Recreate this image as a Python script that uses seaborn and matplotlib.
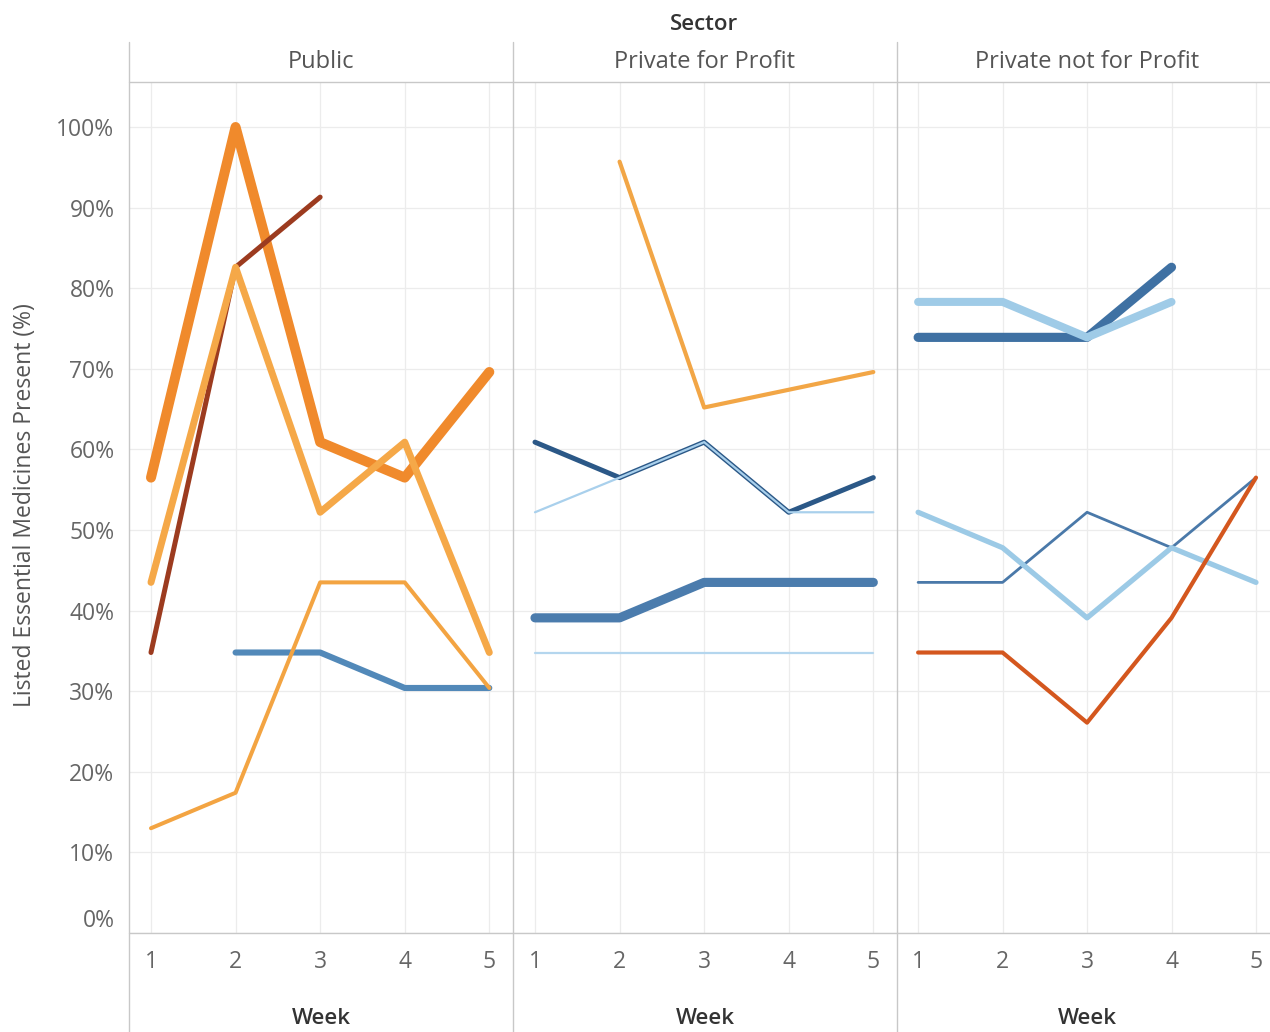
import numpy as np
import pandas as pd
import matplotlib.pyplot as plt
import seaborn as sns
from matplotlib.lines import Line2D

# data (percent of listed essential medicines present)
sectors = ['Public', 'Private for Profit', 'Private not for Profit']
weeks = [1, 2, 3, 4, 5]
nan = np.nan

# Public
pub_thick_orange = [56.5, 100.0, 60.9, 56.5, 69.6]
pub_brown = [34.8, 82.6, 91.3, nan, nan]
pub_light_orange = [43.5, 82.6, 52.2, 60.9, 34.8]
pub_thin_orange = [13.0, 17.4, 43.5, 43.5, 30.4]
pub_blue = [nan, 34.8, 34.8, 30.4, 30.4]

# Private for Profit
pfp_orange = [nan, 95.7, 65.2, nan, 69.6]
pfp_navy = [60.9, 56.5, 60.9, 52.2, 56.5]
pfp_light_blue = [52.2, 56.5, 60.9, 52.2, 52.2]
pfp_thick_blue = [39.1, 39.1, 43.5, 43.5, 43.5]
pfp_pale_blue = [34.8, 34.8, 34.8, 34.8, 34.8]

# Private not for Profit
pnfp_thick_blue = [73.9, 73.9, 73.9, 82.6, nan]
pnfp_thick_light = [78.3, 78.3, 73.9, 78.3, nan]
pnfp_light_blue = [52.2, 47.8, 39.1, 47.8, 43.5]
pnfp_thin_blue = [43.5, 43.5, 52.2, 47.8, 56.5]
pnfp_red = [34.8, 34.8, 26.1, 39.1, 56.5]

series = {
    'Public': [pub_blue, pub_thick_orange, pub_brown, pub_light_orange, pub_thin_orange],
    'Private for Profit': [pfp_pale_blue, pfp_thick_blue, pfp_orange, pfp_navy, pfp_light_blue],
    'Private not for Profit': [pnfp_thick_blue, pnfp_thick_light, pnfp_thin_blue, pnfp_light_blue, pnfp_red],
}

# colour and width of each line, same order as above
styles = {
    'Public': [('#5289b9', 4.4), ('#f08a2c', 7.2), ('#9c3b1f', 3.6), ('#f5a848', 5.0), ('#f3a442', 2.9)],
    'Private for Profit': [('#b4d6ee', 1.6), ('#4b7cad', 6.6), ('#f2a646', 3.0), ('#2b5887', 3.6), ('#a9d0ec', 1.6)],
    'Private not for Profit': [('#3f71a3', 6.6), ('#9fcbe7', 5.8), ('#4a79a9', 2.0), ('#9ccae6', 3.8), ('#d4571e', 3.0)],
}

rows = []
for sec in sectors:
    for i, vals in enumerate(series[sec]):
        for w, v in zip(weeks, vals):
            rows.append({'Sector': sec, 'line': i, 'Week': w, 'value': v})
df = pd.DataFrame(rows).dropna()

sns.set_style('white')
plt.rcParams['font.family'] = ['Open Sans', 'DejaVu Sans']

W, H = 1270, 1032
fig = plt.figure(figsize=(W / 100, H / 100), dpi=100)

top_px, bot_px = 82, 933
lefts = [129, 513, 897]
rights = [513, 897, 1270]
xlims = [(0.74, 5.28), (0.74, 5.28), (0.75, 5.166)]
grid_c = '#ececec'
line_c = '#c8c8c8'

axes = []
for k, sec in enumerate(sectors):
    ax = fig.add_axes([lefts[k] / W, 1 - bot_px / H, (rights[k] - lefts[k]) / W, (bot_px - top_px) / H])
    axes.append(ax)
    sub = df[df['Sector'] == sec]
    for i, (c, lw) in enumerate(styles[sec]):
        sns.lineplot(data=sub[sub['line'] == i], x='Week', y='value', ax=ax,
                     color=c, linewidth=lw, solid_capstyle='round', solid_joinstyle='round',
                     estimator=None, legend=False)
    ax.set_xlim(*xlims[k])
    ax.set_ylim(0, (bot_px - top_px) / 8.06)
    ax.set_xticks(weeks)
    ax.set_yticks(range(0, 101, 10))
    ax.grid(True, color=grid_c, linewidth=0.9)
    ax.set_axisbelow(True)
    for s in ax.spines.values():
        s.set_visible(False)
    ax.set_xlabel('')
    ax.set_ylabel('')
    ax.tick_params(axis='x', length=0, pad=12, labelsize=16.5, labelcolor='#666666')
    if k == 0:
        ax.set_yticklabels([f'{v}%' for v in range(0, 101, 10)])
        ax.tick_params(axis='y', length=6.5, width=0.8, color=line_c, pad=4, labelsize=16.5, labelcolor='#666666')
        ax.get_yticklabels()[0].set_va('bottom')
    else:
        ax.tick_params(axis='y', length=0, labelleft=False)
    cx = (lefts[k] + rights[k]) / 2 if k < 2 else (lefts[k] + 1277) / 2
    fig.text(cx / W, 1 - 62 / H, sec, ha='center', va='center', fontsize=17, color='#555555')
    fig.text(cx / W, 1 - 1018 / H, 'Week', ha='center', va='center', fontsize=16,
             fontweight='semibold', color='#333333')

# header / frame lines like the facet grid
def hline(y, x0, x1):
    fig.add_artist(Line2D([x0 / W, x1 / W], [1 - y / H, 1 - y / H], color=line_c, lw=1.0))

def vline(x, y0, y1):
    fig.add_artist(Line2D([x / W, x / W], [1 - y0 / H, 1 - y1 / H], color=line_c, lw=1.0))

hline(82, 129, 1270)
hline(933, 129, 1270)
for x in lefts:
    vline(x, 42, 1032)

fig.text(704 / W, 1 - 24 / H, 'Sector', ha='center', va='center', fontsize=16,
         fontweight='semibold', color='#333333')
fig.text(25 / W, 1 - 505 / H, 'Listed Essential Medicines Present (%)', rotation=90,
         ha='center', va='center', fontsize=16.5, color='#555555')

fig.savefig('out.png', dpi=100, facecolor='white')
